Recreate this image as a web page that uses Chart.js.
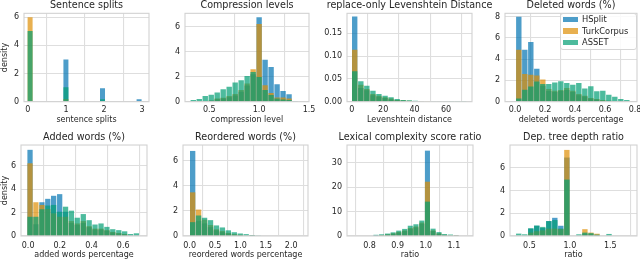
<!DOCTYPE html>
<html lang="en">
<head>
    <meta charset="UTF-8">
    <title>Simplification corpora histograms</title>
    <script src="https://cdn.jsdelivr.net/npm/chart.js@4.4.0/dist/chart.umd.min.js"></script>
    <style>
        body {
            margin: 0;
            background: #fff;
            overflow: hidden;
            font-family: "DejaVu Sans", sans-serif;
        }
        #fig {
            position: relative;
            width: 640px;
            height: 260px;
            overflow: hidden;
        }
        #fig canvas {
            position: absolute;
        }
        #legend {
            position: absolute;
            left: 560px;
            top: 13px;
            width: 77px;
            height: 37px;
            box-sizing: border-box;
            border: 1px solid #d6d6d6;
            border-radius: 3px;
            background: rgba(255, 255, 255, 0.85);
            padding: 0 0 0 2px;
            font-size: 8.3px;
            color: #262626;
            z-index: 5;
        }
        #legend div {
            height: 11.5px;
            line-height: 11.5px;
            white-space: nowrap;
        }
        #legend span {
            display: inline-block;
            width: 15px;
            height: 5.5px;
            margin-right: 4px;
            vertical-align: middle;
        }
    </style>
</head>
<body>
<div id="fig">
    <div id="legend">
        <div><span style="background: rgba(1,115,178,0.7)"></span>HSplit</div>
        <div><span style="background: rgba(222,143,5,0.7)"></span>TurkCorpus</div>
        <div><span style="background: rgba(2,158,115,0.7)"></span>ASSET</div>
    </div>
</div>
<script>
    // Bin centres and densities
    const splitBins = [0.06, 1.0, 1.96, 2.92];
    const splitHSplit = [0, 3.0, 0.95, 0.17];
    const splitTurk = [6.0, 0.2, 0.05, 0];
    const splitAsset = [5.02, 1.03, 0.18, 0];
    const splitXTicks = [0, 1, 2, 3];
    const splitYTicks = [0, 2, 4, 6];

    const compBins = [0.34, 0.40, 0.46, 0.52, 0.58, 0.64, 0.70, 0.76, 0.82, 0.88, 0.94, 1.00, 1.06, 1.12, 1.18, 1.24, 1.30, 1.36];
    const compHSplit = [0, 0, 0.03, 0.07, 0.2, 0.25, 0.35, 0.5, 0.8, 1.3, 2.2, 6.75, 3.36, 2.78, 1.4, 0.85, 0.6, 0.02];
    const compTurk = [0, 0.02, 0.05, 0.1, 0.26, 0.32, 0.45, 0.61, 0.93, 1.46, 2.59, 6.22, 1.32, 0.7, 0.34, 0.34, 0.26, 0.03];
    const compAsset = [0.13, 0.21, 0.45, 0.56, 0.74, 1.0, 1.19, 1.53, 1.72, 2.06, 2.38, 1.98, 0.93, 0.53, 0.26, 0.18, 0.13, 0.05];
    const compXTicks = [0.5, 1.0, 1.5];
    const compYTicks = [0, 2, 4, 6];

    const levBins = [1.9, 5.8, 9.6, 13.5, 17.3, 21.2, 25.0, 28.9, 32.7, 36.6, 40.4, 44.3, 48.1, 52.0, 55.8, 59.7, 63.5, 67.4, 71.2];
    const levHSplit = [0.187, 0.03, 0.025, 0.014, 0.011, 0.008, 0.005, 0.003, 0.002, 0.001, 0.0005, 0.0002, 0, 0, 0, 0, 0, 0, 0];
    const levTurk = [0.114, 0.037, 0.028, 0.017, 0.013, 0.010, 0.007, 0.004, 0.003, 0.002, 0.001, 0.0005, 0.0003, 0, 0, 0, 0, 0, 0];
    const levAsset = [0.067, 0.045, 0.035, 0.024, 0.017, 0.013, 0.010, 0.006, 0.004, 0.003, 0.002, 0.001, 0.0008, 0.0005, 0.0003, 0.0002, 0.0001, 0.0001, 0.0001];
    const levXTicks = [0, 20, 40, 60];
    const levYTicks = [0, 0.05, 0.10, 0.15];

    const delBins = [0.025, 0.065, 0.105, 0.145, 0.185, 0.225, 0.265, 0.305, 0.345, 0.385, 0.425, 0.465, 0.505, 0.545, 0.585, 0.625, 0.665, 0.705, 0.745];
    const delHSplit = [7.97, 4.88, 5.6, 3.09, 1.5, 1.0, 0.9, 1.0, 1.1, 0.9, 0.6, 0.5, 0.3, 0.2, 0.1, 0.08, 0.04, 0.02, 0];
    const delTurk = [4.88, 2.61, 2.52, 2.46, 2.08, 1.2, 1.04, 1.1, 1.29, 1.04, 0.72, 0.57, 0.35, 0.25, 0.16, 0.1, 0.05, 0.03, 0];
    const delAsset = [0.31, 1.13, 1.42, 1.89, 1.67, 1.67, 1.8, 1.92, 1.76, 1.6, 1.76, 1.23, 1.45, 0.98, 1.04, 0.66, 0.47, 0.25, 0.16];
    const delXTicks = [0, 0.2, 0.4, 0.6, 0.8];
    const delYTicks = [0, 2, 4, 6, 8];

    const addBins = [0.012, 0.049, 0.087, 0.124, 0.161, 0.199, 0.236, 0.273, 0.310, 0.348, 0.385, 0.422, 0.460, 0.497, 0.534, 0.572, 0.609, 0.646, 0.683];
    const addHSplit = [7.35, 1.0, 2.88, 3.17, 3.43, 3.57, 2.07, 1.1, 0.95, 1.1, 0.75, 0.55, 0.55, 0.45, 0.3, 0.22, 0.15, 0.04, 0.04];
    const addTurk = [6.2, 2.88, 2.65, 2.3, 1.93, 1.64, 1.64, 1.27, 1.07, 1.27, 0.84, 0.63, 0.63, 0.5, 0.35, 0.26, 0.17, 0.05, 0.05];
    const addAsset = [1.64, 1.64, 2.28, 2.6, 2.65, 2.07, 2.5, 2.16, 1.56, 1.87, 1.35, 0.98, 1.07, 0.78, 0.58, 0.5, 0.4, 0.17, 0.23];
    const addXTicks = [0, 0.2, 0.4, 0.6];
    const addYTicks = [0, 2, 4, 6];

    const reoBins = [0.06, 0.177, 0.294, 0.411, 0.528, 0.645, 0.762, 0.879, 0.996, 1.113, 1.23, 1.347];
    const reoHSplit = [6.76, 1.2, 1.0, 0.7, 0.45, 0.3, 0.2, 0.1, 0.08, 0.04, 0.01, 0];
    const reoTurk = [3.47, 2.1, 1.3, 0.87, 0.53, 0.4, 0.25, 0.15, 0.1, 0.05, 0.02, 0];
    const reoAsset = [1.1, 1.63, 1.45, 1.26, 0.84, 0.68, 0.45, 0.3, 0.2, 0.15, 0.08, 0.03];
    const reoXTicks = [0, 0.5, 1.0, 1.5, 2.0];
    const reoYTicks = [0, 2, 4, 6];

    const lexBins = [0.823, 0.843, 0.864, 0.884, 0.904, 0.925, 0.945, 0.965, 0.986, 1.006, 1.026, 1.047, 1.067, 1.088, 1.108];
    const lexHSplit = [0.1, 0.3, 0.5, 0.9, 1.4, 2.0, 2.9, 3.5, 5.0, 34.9, 2.0, 0.9, 0.4, 0.2, 0.05];
    const lexTurk = [0.2, 0.4, 0.7, 1.1, 1.7, 2.3, 3.3, 3.9, 5.5, 22.2, 2.3, 1.1, 0.5, 0.3, 0.1];
    const lexAsset = [0.5, 0.7, 1.0, 1.5, 2.2, 2.9, 4.2, 4.8, 6.3, 14.05, 3.0, 1.6, 0.8, 0.6, 0.2];
    const lexXTicks = [0.8, 0.9, 1.0, 1.1];
    const lexYTicks = [0, 10, 20, 30];

    const depBins = [0.368, 0.442, 0.517, 0.591, 0.665, 0.740, 0.814, 0.888, 0.963, 1.112, 1.186, 1.261, 1.335, 1.484];
    const depHSplit = [0.05, 0.05, 0.65, 0.9, 0.7, 1.31, 1.6, 0.9, 6.9, 0.05, 0.2, 0.15, 0.1, 0.05];
    const depTurk = [0.05, 0.05, 0.3, 0.42, 0.5, 0.65, 0.65, 0.6, 7.57, 0.05, 0.6, 0.3, 0.2, 0.05];
    const depAsset = [0.21, 0.15, 0.68, 0.92, 0.8, 1.31, 1.4, 0.65, 4.96, 0.15, 0.3, 0.25, 0.12, 0.18];
    const depXTicks = [0.5, 1.0, 1.5];
    const depYTicks = [0, 2, 4, 6];

    const names = ['HSplit', 'TurkCorpus', 'ASSET'];
    const colors = ['rgba(1,115,178,0.7)', 'rgba(222,143,5,0.7)', 'rgba(2,158,115,0.7)'];
    const family = 'DejaVu Sans';
    const textColor = '#262626';
    const gridColor = '#dedede';

    // row geometry (top of canvas, canvas height, x axis band height)
    const rows = [
        { top: 0, height: 130, axisH: 28.3, titlePad: 1.8, tickPad: 3.5, labelPad: 5.2 },
        { top: 132, height: 128, axisH: 24, titlePad: 1.5, tickPad: 5, labelPad: 0 }
    ];

    const panels = [
        { title: 'Sentence splits', xLabel: 'sentence splits', yLabel: 'density',
          bins: splitBins, series: [splitHSplit, splitTurk, splitAsset], xTicks: splitXTicks, yTicks: splitYTicks,
          xDec: 0, yDec: 0, xMin: -0.1, xMax: 3.18, yMax: 6.28, maxBar: 5, left: 24, right: 149, yW: 24, row: 0 },
        { title: 'Compression levels', xLabel: 'compression level',
          bins: compBins, series: [compHSplit, compTurk, compAsset], xTicks: compXTicks, yTicks: compYTicks,
          xDec: 1, yDec: 0, xMin: 0.257, xMax: 1.5, yMax: 7.07, left: 185, right: 309, yW: 24, row: 0 },
        { title: 'replace-only Levenshtein Distance', xLabel: 'Levenshtein distance',
          bins: levBins, series: [levHSplit, levTurk, levAsset], xTicks: levXTicks, yTicks: levYTicks,
          xDec: 0, yDec: 2, xMin: -3.0, xMax: 76.5, yMax: 0.194, left: 347, right: 472, yW: 30, row: 0 },
        { title: 'Deleted words (%)', xLabel: 'deleted words percentage',
          bins: delBins, series: [delHSplit, delTurk, delAsset], xTicks: delXTicks, yTicks: delYTicks,
          xDec: 1, yDec: 0, xMin: -0.067, xMax: 0.813, yMax: 8.3, left: 505, right: 637, yW: 26, row: 0 },
        { title: 'Added words (%)', xLabel: 'added words percentage', yLabel: 'density',
          bins: addBins, series: [addHSplit, addTurk, addAsset], xTicks: addXTicks, yTicks: addYTicks,
          xDec: 1, yDec: 0, xMin: -0.045, xMax: 0.75, yMax: 7.76, left: 21, right: 147, yW: 21, row: 1 },
        { title: 'Reordered words (%)', xLabel: 'reordered words percentage',
          bins: reoBins, series: [reoHSplit, reoTurk, reoAsset], xTicks: reoXTicks, yTicks: reoYTicks,
          xDec: 1, yDec: 0, xMin: -0.13, xMax: 2.33, yMax: 7.23, left: 183, right: 308, yW: 24, row: 1 },
        { title: 'Lexical complexity score ratio', xLabel: 'ratio',
          bins: lexBins, series: [lexHSplit, lexTurk, lexAsset], xTicks: lexXTicks, yTicks: lexYTicks,
          xDec: 1, yDec: 0, xMin: 0.72, xMax: 1.168, yMax: 37.2, left: 347, right: 473, yW: 30, row: 1 },
        { title: 'Dep. tree depth ratio', xLabel: 'ratio',
          bins: depBins, series: [depHSplit, depTurk, depAsset], xTicks: depXTicks, yTicks: depYTicks,
          xDec: 1, yDec: 0, xMin: 0.26, xMax: 1.83, yMax: 8.0, left: 510, right: 637, yW: 26, row: 1 }
    ];

    // light grey box round each plot area
    const frame = {
        id: 'frame',
        afterDatasetsDraw(chart) {
            const { ctx, chartArea: a } = chart;
            ctx.save();
            ctx.strokeStyle = '#d2d2d2';
            ctx.lineWidth = 1.1;
            ctx.strokeRect(a.left, a.top, a.right - a.left, a.bottom - a.top);
            ctx.restore();
        }
    };

    const fig = document.getElementById('fig');
    const legendEl = document.getElementById('legend');

    panels.forEach(p => {
        const row = rows[p.row];
        const canvas = document.createElement('canvas');
        canvas.width = (p.right - p.left) + 2 * p.yW;
        canvas.height = row.height;
        canvas.style.left = (p.left - p.yW) + 'px';
        canvas.style.top = row.top + 'px';
        fig.insertBefore(canvas, legendEl);

        const tickFont = { family: family, size: 8 };

        new Chart(canvas, {
            type: 'bar',
            data: {
                datasets: p.series.map((vals, i) => ({
                    label: names[i],
                    data: p.bins.map((x, j) => ({ x: x, y: vals[j] })),
                    backgroundColor: colors[i],
                    borderWidth: 0,
                    order: 3 - i,
                    grouped: false,
                    barPercentage: 0.9,
                    categoryPercentage: 1,
                    maxBarThickness: p.maxBar
                }))
            },
            options: {
                responsive: false,
                animation: false,
                layout: { padding: 0 },
                plugins: {
                    legend: { display: false },
                    tooltip: { enabled: false },
                    title: {
                        display: true,
                        text: p.title,
                        color: textColor,
                        font: { family: family, size: 9.6, weight: 'normal', lineHeight: 1.2 },
                        padding: { top: 0, bottom: row.titlePad }
                    }
                },
                scales: {
                    x: {
                        type: 'linear',
                        min: p.xMin,
                        max: p.xMax,
                        offset: false,
                        grid: { color: gridColor, lineWidth: 1.1, drawTicks: false },
                        border: { display: false },
                        ticks: {
                            autoSkip: false, maxRotation: 0, padding: row.tickPad,
                            color: textColor, font: tickFont,
                            callback: v => v.toFixed(p.xDec)
                        },
                        title: {
                            display: true, text: p.xLabel, color: textColor,
                            font: { family: family, size: 8, lineHeight: 1.2 },
                            padding: { top: 0, bottom: row.labelPad }
                        },
                        afterBuildTicks: s => { s.ticks = p.xTicks.map(v => ({ value: v })); },
                        afterFit: s => { s.height = row.axisH; s.paddingLeft = 0; s.paddingRight = 0; }
                    },
                    y: {
                        min: 0,
                        max: p.yMax,
                        grid: { color: gridColor, lineWidth: 1.1, drawTicks: false },
                        border: { display: false },
                        ticks: {
                            padding: 5, color: textColor, font: tickFont,
                            callback: v => v.toFixed(p.yDec)
                        },
                        title: {
                            display: !!p.yLabel, text: p.yLabel || '', color: textColor,
                            font: { family: family, size: 8, lineHeight: 1.2 },
                            padding: 0
                        },
                        afterBuildTicks: s => { s.ticks = p.yTicks.map(v => ({ value: v })); },
                        afterFit: s => { s.width = p.yW; s.paddingTop = 0; s.paddingBottom = 0; }
                    },
                    // empty axis on the right so the title stays centred on the plot
                    yR: {
                        position: 'right',
                        grid: { display: false },
                        border: { display: false },
                        ticks: { display: false },
                        afterFit: s => { s.width = p.yW; s.paddingTop = 0; s.paddingBottom = 0; }
                    }
                }
            },
            plugins: [frame]
        });
    });
</script>
</body>
</html>
